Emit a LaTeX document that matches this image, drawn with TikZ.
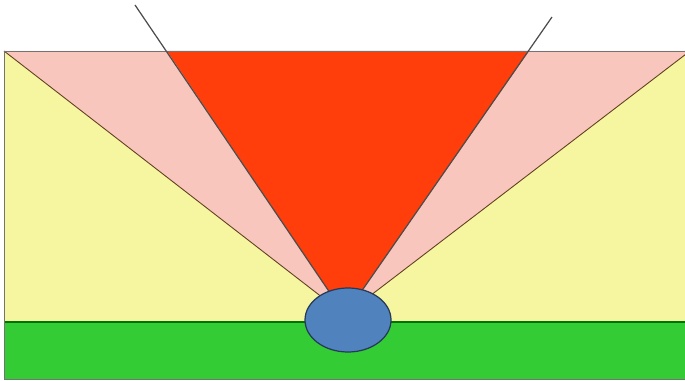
\documentclass[tikz,border=0pt]{standalone}
\usepackage{tikz}
\usetikzlibrary{calc}

\definecolor{fanpink}{RGB}{248,198,188}
\definecolor{fanyellow}{RGB}{246,245,160}
\definecolor{fanred}{RGB}{255,62,12}
\definecolor{groundgreen}{RGB}{52,204,52}
\definecolor{blobblue}{RGB}{80,130,190}
\definecolor{blobedge}{RGB}{38,58,88}

\tikzset{
  edge line/.style={draw=black!55, line width=0.5pt},
  ray line/.style={draw=black!70, line width=0.7pt},
}

\begin{document}
\begin{tikzpicture}[x=0.02cm,y=-0.02cm]
\clip (0,0) rectangle (685,381);
% Key points (pixel grid, y down)
\coordinate (apex) at (345,315);
\coordinate (tl) at (4,51);
\coordinate (tr) at (690,51);
\coordinate (bl) at (4,379);
\coordinate (br) at (690,379);
\coordinate (rl) at (167,51);
\coordinate (rr) at (529,51);
% Background block
\fill[fanyellow] (tl) rectangle (br);
% Pink wedges
\fill[fanpink] (tl) -- (rl) -- (apex) -- cycle;
\fill[fanpink] (rr) -- (tr) -- (apex) -- cycle;
% Red cone
\fill[fanred] (rl) -- (rr) -- (apex) -- cycle;
% Yellow borders
\draw[edge line, draw=black!50!brown] (tl) -- (apex) -- (tr);
% Ground strip
\fill[groundgreen] (4,322) rectangle (br);
\draw[draw=black!55!green, line width=0.6pt] (4,322) -- (690,322);
% Outer frame
\draw[edge line] (tl) rectangle (br);
% Cone rays, running past the top edge
\draw[ray line] (135,5) -- (apex);
\draw[ray line] (552,17) -- (apex);
% Blob
\fill[blobblue, draw=blobedge, line width=0.7pt] (348,320) ellipse (43 and 32);
\end{tikzpicture}
\end{document}
